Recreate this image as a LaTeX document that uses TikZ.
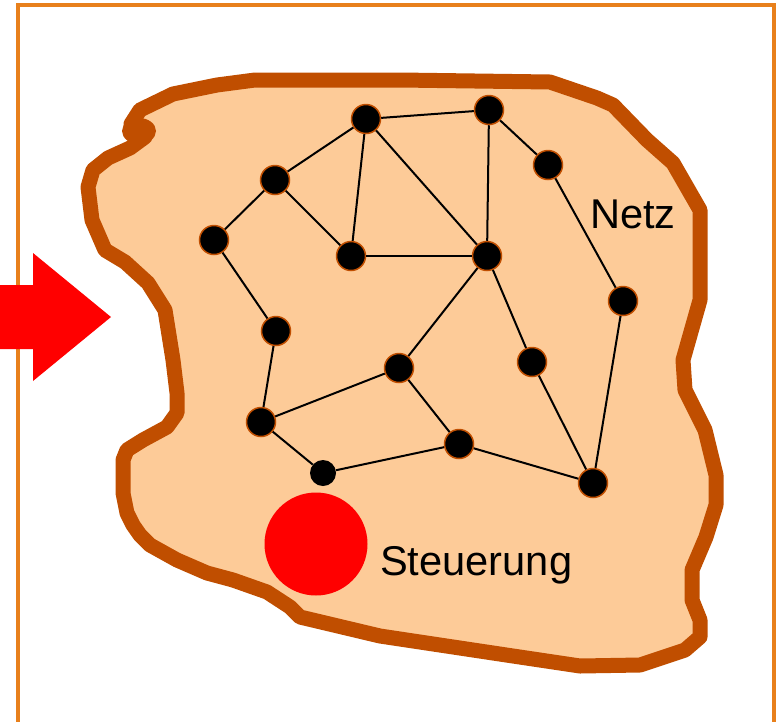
\documentclass[tikz,border=0pt]{standalone}
\usepackage{fontspec}
\setmainfont{Liberation Sans}
\definecolor{framec}{HTML}{E8801C}
\definecolor{blobfill}{HTML}{FDCB98}
\definecolor{blobline}{HTML}{C04E00}
\definecolor{redc}{HTML}{FF0000}
\tikzset{
  framestyle/.style={draw=framec, line width=3.5pt},
  netnode/.style={circle, fill=black, draw=blobline, line width=1.5pt, minimum size=29pt, inner sep=0pt},
  smallnode/.style={circle, fill=black, minimum size=26pt, inner sep=0pt},
  edge/.style={draw=black, line width=2pt},
  outline/.style={draw=blobline, line width=15pt, line cap=round, line join=round},
  lbl/.style={inner sep=0pt, font=\fontsize{41.6pt}{48pt}\selectfont},
}
\begin{document}
\begin{tikzpicture}[x=1pt, y=-1pt]
\useasboundingbox (0,0) rectangle (776,721);
% frame
\draw[framestyle] (18,730) -- (18,5) -- (774,5) -- (774,730);
% arrow
\fill[redc] (0,285) -- (33,285) -- (33,253) -- (111,317) -- (33,381) -- (33,349) -- (0,349) -- cycle;
% blob fill
\fill[blobfill] (130,124) -- (140,110) -- (173,94) -- (217,85) -- (255,80) -- (400,80) -- (550,82)
  -- (597,98) -- (613,105) -- (647,140) -- (673,163) -- (700,210) -- (700,300) -- (683,360)
  -- (685,390) -- (705,430) -- (716,475) -- (716,505) -- (706,537) -- (692,570) -- (692,600)
  -- (700,620) -- (700,637) -- (685,650) -- (640,665) -- (580,666) -- (513,656) -- (380,636)
  -- (300,617) -- (290,607) -- (267,592) -- (233,580) -- (207,573) -- (177,560) -- (150,545)
  -- (140,535) -- (133,525) -- (127,513) -- (123,493) -- (123,460) -- (127,450) -- (143,440)
  -- (167,427) -- (177,413) -- (177,393) -- (173,360) -- (165,310) -- (148,283) -- (125,262)
  -- (105,250) -- (92,220) -- (88,187) -- (93,170) -- (108,158) -- (130,148) -- (145,137) -- cycle;
% blob outline
\draw[outline] (131,124) -- (140,110) -- (173,94) -- (217,85) -- (255,80) -- (400,80) -- (550,82)
  -- (597,98) -- (613,105) -- (647,140) -- (673,163) -- (700,210) -- (700,300) -- (683,360)
  -- (685,390) -- (705,430) -- (716,475) -- (716,505) -- (706,537) -- (692,570) -- (692,600)
  -- (700,620) -- (700,637) -- (685,650) -- (640,665) -- (580,666) -- (513,656) -- (380,636)
  -- (300,617) -- (290,607) -- (267,592) -- (233,580) -- (207,573) -- (177,560) -- (150,545)
  -- (140,535) -- (133,525) -- (127,513) -- (123,493) -- (123,460) -- (127,450) -- (143,440)
  -- (167,427) -- (177,413) -- (177,393) -- (173,360) -- (165,310) -- (148,283) -- (125,262)
  -- (105,250) -- (92,220) -- (88,187) -- (93,170) -- (108,158) -- (130,148) -- (145,137);
\fill[blobline] (139,131) ellipse [x radius=17pt, y radius=13pt];
% nodes
\node[netnode] (n1) at (366,119) {};
\node[netnode] (n2) at (489,110) {};
\node[netnode] (n3) at (548,165) {};
\node[netnode] (n4) at (275,180) {};
\node[netnode] (n5) at (214,240) {};
\node[netnode] (n6) at (351,256) {};
\node[netnode] (n7) at (487,256) {};
\node[netnode] (n8) at (623,301) {};
\node[netnode] (n9) at (276,331) {};
\node[netnode] (n10) at (399,368) {};
\node[netnode] (n11) at (532,362) {};
\node[netnode] (n12) at (261,422) {};
\node[netnode] (n13) at (459,444) {};
\node[smallnode] (n14) at (323,473) {};
\node[netnode] (n15) at (593,483) {};
% edges
\path[edge] (n1) -- (n2);
\path[edge] (n1) -- (n4);
\path[edge] (n1) -- (n6);
\path[edge] (n1) -- (n7);
\path[edge] (n2) -- (n7);
\path[edge] (n2) -- (n3);
\path[edge] (n3) -- (n8);
\path[edge] (n8) -- (n15);
\path[edge] (n4) -- (n5);
\path[edge] (n4) -- (n6);
\path[edge] (n6) -- (n7);
\path[edge] (n5) -- (n9);
\path[edge] (n9) -- (n12);
\path[edge] (n7) -- (n10);
\path[edge] (n7) -- (n11);
\path[edge] (n11) -- (n15);
\path[edge] (n10) -- (n12);
\path[edge] (n10) -- (n13);
\path[edge] (n12) -- (n14);
\path[edge] (n14) -- (n13);
\path[edge] (n13) -- (n15);
% controller
\node[circle, fill=redc, minimum size=103pt, inner sep=0pt] (ctrl) at (316,544) {};
% labels
\node[lbl, anchor=base west] (netz) at (590,228) {Netz};
\node[lbl, anchor=base west] (steu) at (380,575) {Steuerung};
\end{tikzpicture}
\end{document}
